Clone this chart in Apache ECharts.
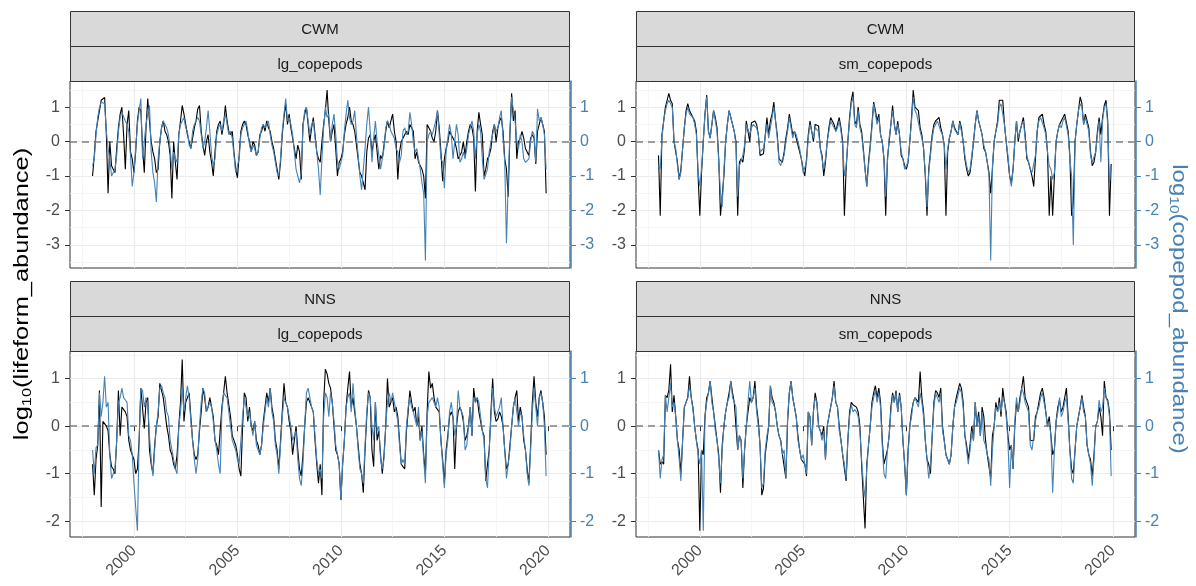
<!DOCTYPE html>
<html>
<head>
<meta charset="utf-8">
<script src="https://cdn.jsdelivr.net/npm/echarts@6/dist/echarts.min.js"></script>
<style>
  html, body { margin: 0; padding: 0; background: #fff; }
  #chart { width: 1196px; height: 586px; }
</style>
</head>
<body>
<div id="chart"></div>
<script>
// monthly samples, Jan 1998 .. Dec 2019 (one row per year)
const firstYear = 1998;
const lastYear = 2019;

const xTicks = [2000, 2005, 2010, 2015, 2020];
const topYTicks = [-3, -2, -1, 0, 1];
const bottomYTicks = [-2, -1, 0, 1];

const regions = ['CWM', 'CWM', 'NNS', 'NNS'];
const lifeforms = ['lg_copepods', 'sm_copepods', 'lg_copepods', 'sm_copepods'];

// CWM / lg_copepods
const cwmLgLifeform = [
  -1.0, -0.4, 0.3, 0.6, 0.9, 1.2, 1.25, 1.28, 0.2, -1.5, 0.0, -0.7,
  -0.8, -0.9, -0.2, 0.4, 0.8, 1.0, 0.2, -0.8, 0.5, 0.9, -0.3, -0.5,
  -0.9, -0.3, 0.6, 1.0, 0.9, -0.2, -0.9, 0.4, 1.25, 0.6, 0.0, -0.3,
  -0.5, -0.9, -0.8, 0.0, 0.4, 0.6, 0.3, 0.2, 0.0, -0.4, -1.65, 0.0,
  -0.6, -1.1, 0.2, 0.6, 1.05, 0.8, 0.5, 0.2, 0.0, -0.2, 0.1, 0.4,
  0.6, 0.95, 1.05, 0.3, -0.1, -0.4, 0.0, 0.2, -0.3, -0.6, -1.0, -0.3,
  0.3, 0.5, 0.6, 0.2, 0.5, 1.05, 0.6, 0.3, 0.2, 0.3, -0.3, -0.8,
  -1.05, -0.4, 0.3, 0.5, 0.6, 0.5, 0.2, 0.0, -0.3, 0.0, -0.1, -0.4,
  -0.3, 0.2, 0.3, 0.5, 0.3, 0.6, 0.4, 0.3, 0.0, -0.2, -0.5, -0.8,
  -1.1, -0.6, 0.2, 0.7, 1.1, 0.5, 0.8, 0.4, 0.1, -0.2, -0.5, -0.1,
  -0.3, -1.1, 0.5, 0.8, 1.0, 0.5, 0.0, 0.4, 0.7, 0.2, -0.3, -0.5,
  -0.6, 0.0, 0.5, 0.9, 1.5, 0.6, 0.0, 0.3, 0.5, -0.2, -1.0, -0.6,
  -0.5, -0.3, 0.2, 0.5, 0.7, 1.0, 0.6, 0.5, 0.3, -0.1, -0.5, -0.9,
  -1.0, -1.2, -1.4, -0.3, 0.1, 0.2, -0.3, 0.0, 0.2, -0.3, -0.8, -0.4,
  -0.5, -0.1, 0.3, 0.6, 0.4, 0.6, 0.8, 0.3, 0.0, -1.1, -0.3, 0.0,
  0.1, 0.2, 0.3, 0.2, 0.5, 0.4, 0.3, -0.5, -0.3, -0.6, -0.6, -0.8,
  -1.0, -1.65, 0.5, 0.4, 0.3, 0.1, 0.0, 0.3, 0.9, 0.4, -0.3, -1.15,
  -0.5, -0.2, 0.0, 0.3, 0.2, 0.2, 0.0, -0.2, -0.5, -0.4, -0.3, 0.0,
  -0.4, 0.0, 0.3, 0.5, 0.4, 0.1, -1.45, 0.3, 0.85, 0.5, 0.2, -1.0,
  -0.8, -0.5, -0.4, -0.2, 0.3, 0.5, 0.0, 0.4, 0.6, 0.7, 0.3, -0.5,
  -0.8, -1.6, 0.2, 1.4, 0.6, 0.9, -0.5, 0.0, 0.1, 0.3, 0.1, -0.2,
  -0.2, -0.4, 0.1, 0.2, 0.1, -0.65, 0.3, 0.5, 0.7, 0.7, 0.3, -1.5
];
const cwmLgCopepod = [
  -0.7, -0.5, 0.2, 0.7, 1.0, 1.15, 1.2, 1.1, 0.3, -0.2, -0.5, -1.0,
  -1.0, -0.8, -0.4, 0.3, 0.7, 0.85, 0.9, 0.6, 0.5, 0.3, -0.4, -1.3,
  -0.9, -0.2, 0.5, 0.9, 1.25, -0.5, 0.0, 0.5, 0.8, 1.05, -0.3, -0.9,
  -1.2, -1.75, -0.5, 0.0, 0.4, 0.6, 0.5, 0.4, 0.2, -0.2, -0.8, -0.3,
  -0.5, -0.6, 0.2, 0.5, 0.6, 0.7, 0.4, 0.3, -0.1, -0.2, 0.3, 0.5,
  0.5, 0.7, 0.6, 0.2, -0.2, 0.0, 0.4, 0.9, 0.3, -0.4, -0.7, -0.5,
  0.2, 0.4, 0.5, 0.3, 0.6, 0.8, 0.5, 0.2, 0.3, 0.1, -0.4, -0.9,
  -0.9, -0.5, 0.2, 0.4, 0.5, 0.6, 0.3, -0.1, -0.3, -0.1, -0.2, -0.4,
  -0.3, 0.1, 0.4, 0.5, 0.4, 0.5, 0.6, 0.2, -0.1, -0.3, -0.6, -0.9,
  -1.0, -0.5, 0.3, 0.8, 1.25, 0.6, 0.7, 0.5, 0.2, -0.3, -0.8, -1.0,
  -1.2, -0.9, 0.4, 0.9, 1.0, 0.6, 0.2, 0.5, 0.6, 0.1, -0.3, -0.8,
  -1.55, -0.5, 0.4, 1.0, 0.7, 0.8, 0.0, 0.5, 0.8, 0.2, -0.6, -0.8,
  -0.8, -0.4, 0.3, 0.8, 1.2, 0.7, 0.5, 0.6, 0.9, 0.2, -0.4, -1.0,
  -1.4, -0.8, -0.2, 0.5, 1.0, 0.3, -0.6, 0.1, 0.6, 0.0, -0.4, -0.8,
  -0.8, -0.2, 0.4, 0.6, 0.5, 0.3, 0.3, 0.1, -0.2, -0.3, -0.6, -0.4,
  0.3, 0.4, 0.2, 0.3, 0.85, 0.5, 0.0, -0.3, -0.2, -0.5, -0.8, -1.2,
  -1.5, -3.45, 0.0, 0.2, 0.3, 0.2, 0.2, 0.6, 0.9, 0.85, -0.5, -0.6,
  -1.35, -0.3, 0.1, 0.5, 0.2, -0.5, 0.0, 0.5, 0.2, -0.6, -0.5, -0.3,
  -0.5, -0.2, 0.2, 0.4, 0.6, 0.3, -0.5, 0.2, 0.5, 0.3, -0.5, -1.1,
  -1.15, -0.8, -0.3, 0.0, 0.2, 0.5, 0.3, 0.4, 0.7, 0.9, 0.1, -0.6,
  -2.95, -1.2, 0.3, 1.3, 0.9, 0.6, 0.0, -0.2, 0.2, 0.0, -0.5, -0.6,
  -0.6, -0.5, 0.0, 0.3, 0.2, -0.6, 0.95, 0.6, 0.7, 0.5, 0.2, -0.8
];

// CWM / sm_copepods
const cwmSmLifeform = [
  -0.4, -2.15, 0.2, 0.6, 1.0, 1.2, 1.4, 1.2, 1.1, 0.0, -0.3, -0.6,
  -1.1, -0.8, -0.2, 0.4, 0.9, 1.1, 0.9, 0.8, 0.85, 0.6, 0.3, -1.0,
  -2.15, -0.9, 0.0, 0.8, 1.35, 0.3, 0.1, 0.5, 0.9, 0.7, 0.4, -0.5,
  -2.15, -2.15, -1.0, 0.0, 0.5, 0.9, 0.7, 0.5, 0.3, 0.0, -2.15, -0.6,
  -0.5, -0.6, -0.2, 0.6, 0.55, 0.0, 0.55, 0.6, 0.6, 0.5, 0.2, -0.4,
  -0.4, -0.35, -0.3, 0.7, 0.2, 0.6, 0.8, 1.15, 0.6, 0.2, -0.5, -0.5,
  -0.6, -0.3, 0.1, 0.4, 0.8, 0.5, 0.2, 0.3, 0.1, -0.1, -0.3, -0.5,
  -0.8, -1.0, -0.5, 0.2, 0.6, 0.3, 0.0, 0.5, 0.5, 0.45, -0.2, -0.4,
  -1.0, -0.6, 0.0, 0.4, 0.7, 0.6, 0.5, 0.3, 0.5, 0.7, 0.4, 0.0,
  -2.15, -0.8, 0.0, 0.7, 1.2, 1.45, 0.6, 0.5, 1.0, 0.5, 0.3, -0.2,
  -0.8, -1.3, -0.6, -0.1, 0.5, 1.15, 0.9, 0.6, 0.8, 0.2, 0.0, -0.5,
  -2.15, -0.5, 0.0, 0.5, 1.05, 0.5, 0.2, 0.6, 0.2, -0.4, -0.5, -0.7,
  -0.8, -0.6, 0.0, 0.7, 1.5, 1.0, 1.0, 0.9, 0.4, 0.2, -0.2, -1.0,
  -2.15, -0.8, -0.3, 0.2, 0.5, 0.6, 0.6, 0.7, 0.4, 0.2, -0.1, -2.15,
  -0.3, 0.1, 0.3, 0.6, 0.4, 0.3, 0.2, 0.6, 0.4, 0.0, -0.5, -0.8,
  -1.0, -0.9, -0.5, 0.0, 0.5, 0.9, 0.6, 0.4, 0.2, -0.2, -0.3, -0.6,
  -0.9, -1.5, -0.8, 0.0, 0.3, 0.6, 1.2, 1.2, 1.2, 0.5, 0.0, -0.5,
  -1.0, -1.2, -0.8, 0.0, 0.6, 0.0, 0.3, 0.5, 0.7, 0.2, -0.5, -0.6,
  -0.8, -1.0, -1.3, -0.5, 0.3, 0.7, 0.7, 0.8, 0.5, 0.3, -0.3, -2.15,
  -1.0, -2.15, -1.0, 0.0, 0.3, 0.5, 0.5, 0.7, 0.8, 0.8, 0.3, -0.4,
  -2.15, -1.8, 0.0, 0.5, 0.9, 1.3, 1.1, 0.5, 0.8, 0.6, 0.4, -0.3,
  -0.7, -0.6, -0.3, 0.3, 0.7, 0.2, 0.7, 1.05, 1.2, 0.6, -2.15, -0.65
];
const cwmSmCopepod = [
  -0.7, -0.8, 0.1, 0.6, 0.9, 1.1, 1.2, 1.1, 1.0, 0.0, -0.2, -0.7,
  -1.1, -0.9, -0.2, 0.4, 0.8, 1.0, 0.8, 0.75, 0.7, 0.5, 0.2, -0.9,
  -1.3, -0.8, 0.0, 0.8, 1.3, 0.3, 0.1, 0.5, 0.9, 0.6, 0.3, -0.6,
  -1.5, -1.9, -0.8, 0.0, 0.5, 0.9, 0.7, 0.5, 0.3, -0.1, -1.6, -0.7,
  -0.7, -0.4, -0.1, 0.5, 0.5, 0.2, 0.4, 0.5, 0.5, 0.4, 0.2, -0.3,
  -0.3, -0.2, -0.2, 0.5, 0.1, 0.4, 0.7, 1.0, 0.6, 0.1, -0.6, -0.7,
  -0.5, -0.4, 0.0, 0.3, 0.7, 0.4, 0.1, 0.3, 0.2, 0.0, -0.2, -0.5,
  -0.9, -0.9, -0.6, 0.1, 0.5, 0.3, 0.1, 0.4, 0.45, 0.3, -0.2, -0.5,
  -0.8, -0.5, 0.0, 0.3, 0.6, 0.5, 0.4, 0.3, 0.4, 0.6, 0.3, -0.1,
  -1.0, -0.7, 0.0, 0.6, 1.1, 1.3, 0.5, 0.4, 0.9, 0.4, 0.2, -0.3,
  -0.8, -1.3, -0.7, -0.2, 0.4, 1.1, 0.8, 0.5, 0.7, 0.2, 0.0, -0.5,
  -1.6, -0.6, 0.1, 0.5, 0.9, 0.5, 0.2, 0.5, 0.2, -0.3, -0.5, -0.8,
  -0.8, -0.6, 0.0, 0.6, 1.3, 0.9, 0.8, 0.8, 0.3, 0.1, -0.2, -0.9,
  -1.9, -0.9, -0.4, 0.1, 0.4, 0.5, 0.6, 0.65, 0.3, 0.2, -0.1, -0.8,
  -0.2, 0.1, 0.3, 0.6, 0.35, 0.3, 0.2, 0.55, 0.3, 0.0, -0.4, -0.7,
  -0.9, -0.8, -0.4, 0.0, 0.5, 0.9, 0.6, 0.4, 0.2, -0.1, -0.3, -0.6,
  -1.0, -3.45, -0.7, 0.0, 0.3, 0.5, 1.0, 1.1, 1.1, 0.5, 0.0, -0.4,
  -1.0, -1.3, -0.8, 0.0, 0.6, 0.1, 0.3, 0.5, 0.6, 0.1, -0.4, -0.6,
  -0.8, -0.9, -0.9, -0.4, 0.3, 0.6, 0.7, 0.75, 0.4, 0.2, -0.3, -0.7,
  -0.8, -1.1, -0.9, 0.0, 0.3, 0.5, 0.4, 0.6, 0.7, 0.75, 0.2, -0.5,
  -1.0, -3.0, 0.0, 0.5, 0.9, 1.1, 1.0, 0.5, 0.7, 0.5, 0.3, -0.4,
  -0.6, -0.6, -0.3, 0.2, 0.6, -0.6, 0.6, 1.0, 1.1, 0.5, -1.2, -0.7
];

// NNS / lg_copepods
const nnsLgLifeform = [
  -0.8, -1.45, -0.7, -0.4, 0.75, -1.7, 0.1, 0.1, 0.0, -0.1, -0.6, -0.85,
  -0.9, -1.0, -0.3, 0.75, -0.2, 0.4, 0.4, 0.3, 0.2, -0.3, -0.5, -0.5,
  -0.7, -1.0, -0.9, -0.3, 0.8, 0.8, -0.05, 0.5, 0.6, -0.5, -0.8, -1.0,
  -0.4, 0.0, 0.2, 0.9, 0.9, 0.6, 0.3, 0.0, -0.2, -0.5, -0.6, -0.8,
  -0.9, -0.6, 0.0, 0.5, 1.4, 0.1, 0.5, 0.6, 0.7, 0.2, -0.3, -0.6,
  -0.7, -0.6, -0.1, 0.3, 0.8, 0.6, 0.3, 0.4, 0.6, 0.4, 0.2, -0.3,
  -0.4, -0.6, -0.6, 0.4, 0.7, 1.05, 0.7, 0.7, 0.2, -0.2, -0.3, -0.4,
  -0.6, -0.9, -1.05, 0.0, 0.7, 0.6, 0.1, 0.4, 0.0, -0.1, 0.1, -0.3,
  -0.4, -0.6, -0.4, 0.1, 0.4, 0.7, 0.5, 0.8, 0.4, 0.2, -0.3, -0.5,
  -0.9, -0.3, 0.3, 0.9, 0.5, 0.4, 0.1, -0.1, -0.6, -0.3, 0.0, -0.5,
  -0.9, -1.05, -0.6, 0.0, 0.5, 0.6, 0.5, 0.4, 0.3, -0.3, -0.8, -1.2,
  -0.8, -1.45, 0.5, 1.2, 1.1, 0.9, 0.8, 0.5, 0.0, -0.5, -0.6, -0.8,
  -1.55, -0.8, -0.3, 0.4, 0.8, 1.15, 0.4, 0.6, 0.3, 0.0, -0.4, -0.8,
  -1.0, -1.4, -0.5, 0.2, 0.75, 0.6, -0.5, -0.85, 0.5, -0.3, -0.1, -0.6,
  -1.0, -0.6, 0.0, 1.0, 0.4, 0.5, 0.6, 0.3, 0.4, 0.2, -0.3, -0.8,
  -0.85, -0.9, -0.1, 0.3, 0.75, 0.5, 0.3, 0.4, 0.0, 0.2, -0.3, 0.0,
  -0.6, -1.0, 0.3, 1.15, 0.8, 0.9, 0.6, 0.4, 0.4, 0.3, -0.3, -0.7,
  -1.2, -0.5, -0.2, 0.2, 0.3, 0.2, -0.9, 0.0, 0.3, 0.4, 0.3, 0.1,
  -0.3, -0.2, 0.0, 0.4, -0.2, 0.8, 0.5, 0.6, 0.3, 0.1, -0.1, -0.2,
  -1.15, -0.8, -0.5, 0.3, 1.0, 0.3, 0.1, 0.15, 0.3, 0.2, 0.0, -0.5,
  -0.9, -0.8, -0.4, 0.0, 0.4, 0.6, 0.75, 0.1, 0.4, 0.2, -0.3, -0.5,
  -0.9, -1.2, -0.4, 0.5, 1.05, 0.5, 0.2, 0.6, 0.75, 0.5, 0.2, -0.6
];
const nnsLgCopepod = [
  -0.5, -1.0, -0.45, -0.4, 0.7, 0.2, 0.5, 1.05, 0.4, 0.5, -0.6, -1.1,
  -1.1, -0.9, -0.3, 0.5, 0.6, 0.8, 0.6, 0.55, 0.5, -0.2, -0.3, -0.6,
  -1.2, -1.2, -2.2, -0.3, 0.8, 0.75, 0.4, 0.6, 0.5, -0.2, -0.7, -1.05,
  -0.5, 0.0, 0.3, 0.8, 0.85, 0.7, 0.6, 0.3, 0.2, -0.3, -0.5, -0.7,
  -0.9, -1.0, 0.0, 0.3, 0.8, 0.3, 0.6, 0.85, 0.6, 0.1, -0.3, -0.7,
  -1.0, -0.7, 0.0, 0.5, 0.8, 0.7, 0.3, 0.4, 0.5, 0.4, 0.1, -0.3,
  -0.5, -0.8, -1.0, 0.3, 0.7, 0.7, 0.6, 0.6, 0.0, -0.3, -0.3, -0.5,
  -0.7, -0.8, -0.8, 0.2, 0.6, 0.6, 0.2, 0.3, 0.0, -0.2, 0.1, -0.4,
  -0.5, -0.6, -0.4, 0.0, 0.3, 0.6, 0.4, 0.8, 0.3, 0.1, -0.4, -0.6,
  -1.0, -0.4, 0.2, 0.6, 0.6, 0.4, 0.2, 0.0, -0.3, -0.2, -0.1, -0.7,
  -1.1, -1.25, -0.8, 0.0, 0.7, 0.8, 0.6, 0.4, 0.3, -0.2, -0.7, -1.0,
  -0.9, -1.1, 0.2, 0.7, 0.6, 0.2, 0.7, 0.5, 0.1, -0.4, -0.6, -0.8,
  -1.55, -0.8, -0.3, 0.4, 0.6, 0.7, 0.3, 0.9, 0.4, 0.0, -0.5, -0.9,
  -1.0, -1.2, -0.4, 0.3, 0.7, 0.6, 0.0, -0.3, 0.5, -0.1, 0.0, -0.7,
  -0.9, -0.7, 0.0, 0.5, 0.7, 0.5, 0.7, 0.5, 0.3, 0.1, -0.4, -0.8,
  -0.7, -0.8, 0.0, 0.4, 0.6, 0.4, 0.3, 0.3, 0.0, 0.4, -0.3, -0.1,
  -0.7, -1.2, 0.2, 0.5, 0.5, 0.6, 0.6, 0.4, 0.6, 0.4, -0.3, -0.8,
  -1.3, -0.6, -0.3, 0.3, 0.5, 0.2, -0.2, 0.0, 0.75, 0.4, 0.3, 0.2,
  -0.5, -0.4, 0.0, 0.4, -0.2, 0.6, 0.5, 0.6, 0.5, 0.2, -0.1, -0.3,
  -1.1, -1.3, -0.5, 0.2, 0.8, 0.4, 0.2, 0.3, 0.4, 0.6, 0.0, -0.5,
  -1.1, -0.8, -0.5, 0.0, 0.4, 0.6, 0.6, 0.0, 0.3, 0.2, -0.2, -0.5,
  -1.0, -1.25, -0.5, 0.3, 0.8, 0.4, 0.0, 0.6, 0.7, 0.5, 0.0, -1.05
];

// NNS / sm_copepods
const nnsSmLifeform = [
  -0.5, -0.8, -0.75, -0.8, 0.65, 0.6, 0.75, 1.3, 0.3, 0.65, 0.2, -0.3,
  -0.5, -1.0, -0.3, 0.4, 0.5, 0.6, 1.05, 0.6, 0.4, 0.0, -0.3, -0.5,
  -2.2, -0.5, -0.6, 0.2, 0.6, 0.7, 0.95, 0.6, 0.3, 0.0, -0.3, -0.6,
  -1.4, -0.4, 0.0, 0.3, 0.5, 0.7, 0.95, 0.7, 0.5, 0.5, -0.5, -0.2,
  -0.3, -1.3, -0.5, 0.0, 0.3, 0.6, 0.5, 0.6, 0.95, 0.4, 0.1, -0.4,
  -1.45, -1.3, -0.6, -0.3, 0.0, 0.85, 0.6, 0.5, 0.3, 0.0, -0.2, -0.3,
  -0.6, -0.6, -1.1, 0.1, 0.7, 0.95, 0.6, 0.4, 0.2, -0.2, -0.5, -0.7,
  -0.7, -0.8, -1.05, 0.3, 0.2, -0.4, 0.3, 0.7, 0.5, 0.0, -0.1, -0.2,
  0.0, -0.7, 0.0, 0.2, 0.4, 0.6, 0.95, 0.5, 0.4, 0.0, -0.3, -0.6,
  -0.9, -1.15, -0.3, 0.3, 0.5, 0.45, 0.45, 0.4, 0.3, 0.0, -0.8, -1.5,
  -2.15, -0.8, -0.4, 0.0, 0.5, 0.7, 0.85, 0.6, 0.8, 0.5, -0.3, -0.8,
  -0.8, -0.5, -0.2, 0.4, 0.7, 0.5, 0.75, 0.3, 0.7, 0.4, -0.3, -0.8,
  -1.45, -0.5, 0.0, 0.3, 0.5, 0.6, 0.6, 0.5, 1.15, 0.6, 0.3, -0.3,
  -0.7, -0.8, -1.0, -0.2, 0.5, 0.75, 0.7, 0.6, 0.8, 0.0, -0.3, -0.6,
  -0.7, -0.8, -0.6, 0.0, 0.4, 0.6, 0.6, 0.9, 0.8, 0.5, -0.2, -0.4,
  -0.7, -0.4, 0.0, -0.3, 0.5, 0.0, 0.3, -0.2, 0.4, 0.2, -0.3, -0.6,
  -0.6, -1.1, -0.2, 0.0, 0.5, 0.3, 0.6, 0.2, 0.8, 0.5, 0.3, -0.2,
  -0.5, -0.4, -0.9, 0.0, 0.5, 0.3, 0.6, 0.8, 1.05, 0.6, 0.6, 0.4,
  -0.3, -0.3, -0.3, 0.2, 0.3, 0.5, 0.7, 0.8, 0.6, 0.3, 0.0, 0.2,
  0.2, -0.6, -0.5, 0.1, 0.4, 0.55, 0.3, 0.4, 0.6, 0.8, 0.2, -0.5,
  -0.9, -1.0, -0.5, 0.0, 0.2, 0.4, 0.65, 0.4, 0.2, -0.4, -0.6, -0.7,
  -1.05, -0.6, 0.0, 0.1, 0.4, 0.2, -0.2, 0.95, 0.6, 0.55, 0.3, -0.5
];
const nnsSmCopepod = [
  -0.5, -1.1, -0.7, -0.6, 0.65, 0.3, 0.6, 0.9, 0.4, 0.5, 0.2, -0.3,
  -0.7, -1.15, -0.3, 0.4, 0.5, 0.6, 0.85, 0.6, 0.35, 0.0, -0.3, -0.6,
  -0.8, -0.5, -2.2, 0.2, 0.5, 0.7, 0.95, 0.5, 0.3, -0.1, -0.3, -0.7,
  -1.2, -0.5, 0.0, 0.3, 0.5, 0.6, 0.95, 0.6, 0.5, 0.4, -0.5, -0.2,
  -0.3, -1.1, -0.5, 0.0, 0.5, 0.95, 0.5, 0.6, 0.8, 0.3, 0.0, -0.4,
  -1.3, -1.2, -0.5, -0.2, 0.0, 0.85, 0.5, 0.45, 0.3, 0.0, -0.2, -0.3,
  -0.6, -0.5, -1.1, 0.2, 0.7, 0.95, 0.6, 0.4, 0.2, -0.3, -0.5, -0.7,
  -0.6, -0.8, -1.0, 0.3, 0.2, -0.4, 0.3, 0.6, 0.5, 0.0, -0.1, -0.3,
  -0.1, -0.7, 0.0, 0.2, 0.4, 0.6, 0.85, 0.5, 0.4, -0.1, -0.3, -0.6,
  -0.8, -1.1, -0.3, 0.2, 0.45, 0.3, 0.35, 0.3, 0.2, -0.1, -0.7, -1.2,
  -1.5, -0.9, -0.4, 0.0, 0.4, 0.6, 0.75, 0.5, 0.7, 0.4, -0.4, -1.0,
  -1.1, -0.5, -0.2, 0.3, 0.65, 0.5, 0.7, 0.3, 0.65, 0.4, -0.3, -0.8,
  -1.45, -0.6, 0.0, 0.2, 0.5, 0.6, 0.5, 0.4, 0.7, 0.5, 0.2, -0.3,
  -0.7, -1.1, -0.8, -0.2, 0.4, 0.7, 0.6, 0.5, 0.7, -0.1, -0.3, -0.6,
  -0.7, -0.8, -0.6, 0.0, 0.4, 0.5, 0.5, 0.8, 0.7, 0.4, -0.2, -0.5,
  -0.8, -0.5, -0.1, -0.3, 0.5, 0.0, 0.2, -0.2, 0.3, -0.3, -0.4, -0.6,
  -0.7, -1.25, -0.5, 0.0, 0.4, 0.3, 0.5, 0.3, 0.6, 0.5, 0.2, -0.3,
  -1.3, -0.4, -0.9, 0.1, 0.6, 0.3, 0.5, 0.8, 0.7, 0.5, 0.5, 0.3,
  -0.4, -0.5, -0.5, 0.1, 0.3, 0.4, 0.6, 0.7, 0.5, 0.3, 0.0, 0.1,
  -0.2, -1.4, -0.5, 0.1, 0.3, 0.6, 0.2, 0.3, 0.5, 0.6, 0.1, -0.5,
  -1.1, -1.2, -0.5, 0.0, 0.2, 0.4, 0.6, 0.3, 0.2, -0.4, -0.6, -0.8,
  -1.25, -0.7, 0.0, 0.1, 0.55, 0.3, 0.4, 0.8, 0.6, 0.5, 0.2, -1.05
];

const lifeformSeries = [cwmLgLifeform, cwmSmLifeform, nnsLgLifeform, nnsSmLifeform];
const copepodSeries = [cwmLgCopepod, cwmSmCopepod, nnsLgCopepod, nnsSmCopepod];

// decimal-year time stamp of each monthly sample
const dates = [];
for (let y = firstYear; y <= lastYear; y++) {
  for (let m = 0; m < 12; m++) dates.push(y + m / 12);
}

const font = "'Liberation Sans', Arial, sans-serif";
const blue = '#4682b4';
const xRange = [1996.91, 2021.07];
const topRange = [-3.67, 1.76];
const bottomRange = [-2.33, 1.58];

// panel boxes in px
const grids = [
  { left: 70, top: 81, width: 500, height: 187 },
  { left: 636, top: 81, width: 499, height: 187 },
  { left: 70, top: 351, width: 500, height: 186 },
  { left: 636, top: 351, width: 499, height: 186 }
];
const stripTops = [11, 11, 281, 281];

const option = {
  animation: false,
  backgroundColor: '#fff',
  textStyle: { fontFamily: font },
  grid: grids.map(g => Object.assign({ show: true, borderColor: '#333', borderWidth: 1, backgroundColor: '#fff' }, g)),
  xAxis: [],
  yAxis: [],
  series: [],
  graphic: []
};

grids.forEach((g, i) => {
  const bottomRow = i >= 2;
  const yRange = bottomRow ? bottomRange : topRange;
  const yTicks = bottomRow ? bottomYTicks : topYTicks;

  option.xAxis.push({
    type: 'value', gridIndex: i, min: xRange[0], max: xRange[1],
    axisLine: { show: false },
    axisTick: { show: bottomRow, length: 5, customValues: xTicks, lineStyle: { color: '#333' } },
    axisLabel: {
      show: bottomRow, customValues: xTicks, rotate: 45, margin: 11,
      fontSize: 16, color: '#4d4d4d', fontFamily: font,
      formatter: v => String(v)
    },
    splitLine: { show: true, lineStyle: { color: '#ebebeb', width: 1.1 } },
    minorTick: { show: false, splitNumber: 2 },
    minorSplitLine: { show: true, lineStyle: { color: '#f3f3f3', width: 0.8 } }
  });

  // left axis: lifeform abundance
  option.yAxis.push({
    type: 'value', gridIndex: i, position: 'left', min: yRange[0], max: yRange[1],
    axisLine: { show: false },
    axisTick: { show: true, length: 5, customValues: yTicks, lineStyle: { color: '#333' } },
    axisLabel: { customValues: yTicks, margin: 10, fontSize: 16, color: '#4d4d4d', fontFamily: font },
    splitLine: { show: true, lineStyle: { color: '#ebebeb', width: 1.1 } },
    minorTick: { show: false, splitNumber: 2 },
    minorSplitLine: { show: true, lineStyle: { color: '#f3f3f3', width: 0.8 } }
  });
  // right axis: copepod abundance
  option.yAxis.push({
    type: 'value', gridIndex: i, position: 'right', offset: 1, min: yRange[0], max: yRange[1],
    axisLine: { show: true, lineStyle: { color: blue, width: 1.5 } },
    axisTick: { show: true, length: 5, customValues: yTicks, lineStyle: { color: blue } },
    axisLabel: { customValues: yTicks, margin: 9, fontSize: 16, color: blue, fontFamily: font },
    splitLine: { show: false },
    minorSplitLine: { show: false }
  });

  option.series.push({
    type: 'line', xAxisIndex: i, yAxisIndex: 2 * i,
    data: dates.map((d, k) => [d, lifeformSeries[i][k]]),
    showSymbol: false, symbol: 'none',
    lineStyle: { color: '#000', width: 1.1 },
    z: 2,
    markLine: {
      silent: true, symbol: ['none', 'none'], z: 1,
      label: { show: false },
      lineStyle: { color: '#808080', type: [7, 5], width: 1.5 },
      data: [{ yAxis: 0 }]
    }
  });
  option.series.push({
    type: 'line', xAxisIndex: i, yAxisIndex: 2 * i + 1,
    data: dates.map((d, k) => [d, copepodSeries[i][k]]),
    showSymbol: false, symbol: 'none',
    lineStyle: { color: blue, width: 1.1 },
    z: 3
  });

  // facet strips
  const t = stripTops[i];
  const mid = g.top - t;
  const h1 = Math.round(mid / 2);
  [[regions[i], t, h1], [lifeforms[i], t + h1, mid - h1]].forEach(([label, y, h]) => {
    option.graphic.push({
      type: 'rect', z: 10,
      shape: { x: g.left + 0.5, y: y + 0.5, width: g.width - 1, height: h },
      style: { fill: '#d9d9d9', stroke: '#333', lineWidth: 1 }
    });
    option.graphic.push({
      type: 'text', z: 11,
      x: g.left + g.width / 2, y: y + h / 2 + 1,
      style: { text: label, fill: '#1a1a1a', font: '15px ' + font, align: 'center', verticalAlign: 'middle' }
    });
  });
});

// axis titles (stretched along the reading direction to match the source lettering)
function axisTitle(text, x, y, rotation, color, stretch) {
  return {
    type: 'text', z: 11, x, y, rotation, scaleX: stretch,
    style: {
      text: '{a|log}{s|10}{a|(' + text + ')}',
      align: 'center', verticalAlign: 'middle',
      rich: {
        a: { fontSize: 20, lineHeight: 24, fill: color, fontFamily: font },
        s: { fontSize: 13, lineHeight: 14, verticalAlign: 'bottom', fill: color, fontFamily: font }
      }
    }
  };
}
option.graphic.push(axisTitle('lifeform_abundance', 22, 294, Math.PI / 2, '#000', 1.27));
option.graphic.push(axisTitle('copepod_abundance', 1179, 309, -Math.PI / 2, blue, 1.2));

const chart = echarts.init(document.getElementById('chart'), null, { renderer: 'canvas' });
chart.setOption(option);
</script>
</body>
</html>
